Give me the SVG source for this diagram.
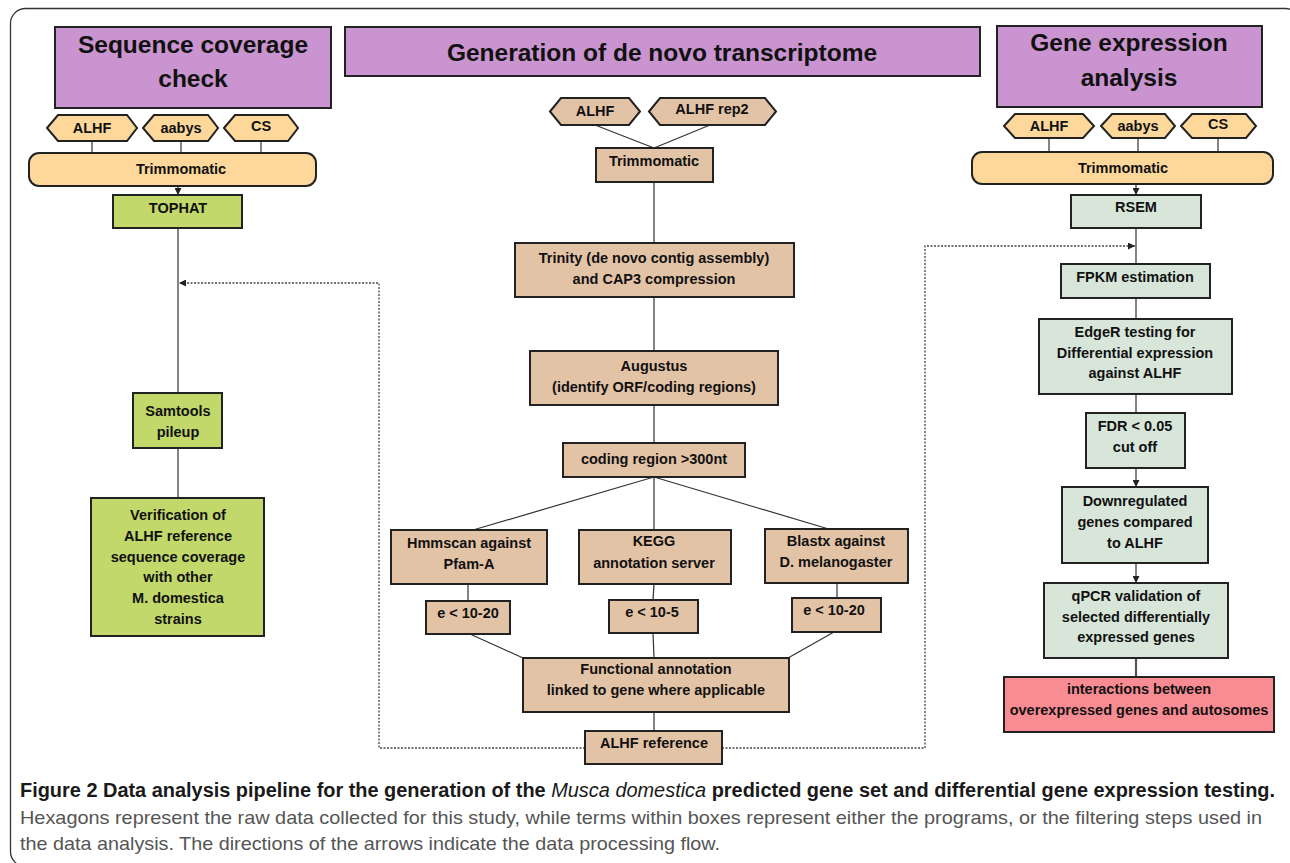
<svg xmlns="http://www.w3.org/2000/svg" width="1290" height="863" viewBox="0 0 1290 863">
<defs>
<style>
.hdr{fill:#c994cf;stroke:#222;stroke-width:2}
.hex{fill:#fdd89a;stroke:#222;stroke-width:2}
.hexc{fill:#e3c3a6;stroke:#222;stroke-width:2}
.trim{fill:#fdd89a;stroke:#222;stroke-width:2}
.grn{fill:#c2d86a;stroke:#222;stroke-width:2}
.tan{fill:#e3c3a6;stroke:#222;stroke-width:2}
.gry{fill:#d8e6da;stroke:#222;stroke-width:2}
.pnk{fill:#f98b93;stroke:#222;stroke-width:2}
text{font-family:"Liberation Sans",Arial,sans-serif;font-weight:bold;fill:#111;text-anchor:middle}
.ht{font-size:24.5px}
.nt{font-size:14.5px}
.ln{stroke:#333;stroke-width:1.2;fill:none}
.dot{stroke:#444;stroke-width:1.3;fill:none;stroke-dasharray:2,1.5}
.cap{font-family:"Liberation Sans Narrow","Liberation Sans",Arial,sans-serif;text-anchor:start;font-size:20px}
</style>
<marker id="ah" viewBox="0 0 10 10" refX="10" refY="5" markerWidth="7" markerHeight="7" orient="auto" markerUnits="userSpaceOnUse">
<path d="M0,0 L10,5 L0,10 z" fill="#222"/>
</marker>
</defs>
<rect width="1290" height="863" fill="#fff"/>
<rect x="10.5" y="8.5" width="1290" height="858" rx="15" fill="none" stroke="#333" stroke-width="1.3"/>

<g id="connectors">
<line class="ln" x1="92" y1="141" x2="92" y2="153"/>
<line class="ln" x1="181" y1="141" x2="181" y2="153"/>
<line class="ln" x1="261" y1="141" x2="261" y2="153"/>
<line class="ln" x1="178" y1="186" x2="178" y2="195" marker-end="url(#ah)"/>
<line class="ln" x1="178" y1="228" x2="178" y2="393"/>
<line class="ln" x1="178" y1="448" x2="178" y2="498"/>
<line class="ln" x1="595" y1="125" x2="654" y2="148"/>
<line class="ln" x1="710" y1="125" x2="654" y2="148"/>
<line class="ln" x1="654" y1="182" x2="654" y2="243"/>
<line class="ln" x1="654" y1="297" x2="654" y2="351"/>
<line class="ln" x1="654" y1="405" x2="654" y2="443"/>
<line class="ln" x1="654" y1="477" x2="473" y2="530"/>
<line class="ln" x1="654" y1="477" x2="654" y2="530"/>
<line class="ln" x1="654" y1="477" x2="832" y2="530"/>
<line class="ln" x1="468" y1="584" x2="468" y2="601"/>
<line class="ln" x1="654" y1="584" x2="653" y2="600"/>
<line class="ln" x1="837" y1="583" x2="837" y2="598"/>
<line class="ln" x1="470" y1="634" x2="523" y2="658"/>
<line class="ln" x1="653" y1="633" x2="654" y2="658"/>
<line class="ln" x1="834" y1="632" x2="788" y2="658"/>
<line class="ln" x1="654" y1="712" x2="654" y2="731"/>
<line class="ln" x1="1049" y1="138" x2="1049" y2="152"/>
<line class="ln" x1="1138" y1="138" x2="1138" y2="152"/>
<line class="ln" x1="1218" y1="138" x2="1218" y2="152"/>
<line class="ln" x1="1136" y1="184" x2="1136" y2="195" marker-end="url(#ah)"/>
<line class="ln" x1="1136" y1="228" x2="1136" y2="264"/>
<line class="ln" x1="1136" y1="298" x2="1136" y2="319"/>
<line class="ln" x1="1136" y1="394" x2="1136" y2="413"/>
<line class="ln" x1="1136" y1="468" x2="1136" y2="487" marker-end="url(#ah)"/>
<line class="ln" x1="1136" y1="563" x2="1136" y2="583" marker-end="url(#ah)"/>
<line x1="1136" y1="658" x2="1136" y2="677" stroke="#555" stroke-width="2.2"/>
<polyline class="dot" points="585,748 379,748 379,283 179,283" marker-end="url(#ah)"/>
<polyline class="dot" points="722,748 925,748 925,246 1135,246" marker-end="url(#ah)"/>
</g>

<g id="hdr-left"><rect class="hdr" x="55" y="27" width="276" height="81"/>
<text class="ht" x="193" y="53">Sequence coverage</text><text class="ht" x="193" y="87">check</text></g>
<g id="hdr-center"><rect class="hdr" x="345" y="27" width="635" height="49"/>
<text class="ht" x="662" y="61">Generation of de novo transcriptome</text></g>
<g id="hdr-right"><rect class="hdr" x="997" y="26" width="265" height="81"/>
<text class="ht" x="1129" y="51">Gene expression</text><text class="ht" x="1129" y="86">analysis</text></g>

<g id="hex-l-alhf"><polygon class="hex" points="47,128 58,115 127,115 137,128 127,141 58,141"/><text class="nt" x="92" y="133">ALHF</text></g>
<g id="hex-l-aabys"><polygon class="hex" points="143,128 154,115 208,115 218,128 208,141 154,141"/><text class="nt" x="181" y="133">aabys</text></g>
<g id="hex-l-cs"><polygon class="hex" points="224,128 235,115 288,115 298,128 288,141 235,141"/><text class="nt" x="261" y="131">CS</text></g>
<g id="trim-l"><rect class="trim" x="29" y="153" width="287" height="33" rx="10"/><text class="nt" x="181" y="174">Trimmomatic</text></g>
<g id="tophat"><rect class="grn" x="113" y="195" width="129" height="33"/><text class="nt" x="178" y="213">TOPHAT</text></g>
<g id="samtools"><rect class="grn" x="133" y="393" width="89" height="55"/><text class="nt" x="178" y="416">Samtools</text><text class="nt" x="178" y="437">pileup</text></g>
<g id="verification"><rect class="grn" x="91" y="498" width="173" height="138"/>
<text class="nt" x="178" y="520">Verification of</text>
<text class="nt" x="178" y="541">ALHF reference</text>
<text class="nt" x="178" y="562">sequence coverage</text>
<text class="nt" x="178" y="582">with other</text>
<text class="nt" x="178" y="603">M. domestica</text>
<text class="nt" x="178" y="624">strains</text></g>

<g id="hex-c-alhf"><polygon class="hexc" points="550,111.5 561,98 629,98 640,111.5 629,125 561,125"/><text class="nt" x="595" y="116">ALHF</text></g>
<g id="hex-c-rep2"><polygon class="hexc" points="649,111.5 660,98 765,98 776,111.5 765,125 660,125"/><text class="nt" x="712" y="114">ALHF rep2</text></g>
<g id="trim-c"><rect class="tan" x="596" y="148" width="117" height="34"/><text class="nt" x="654" y="166">Trimmomatic</text></g>
<g id="trinity"><rect class="tan" x="515" y="243" width="279" height="54"/><text class="nt" x="654" y="263">Trinity (de novo contig assembly)</text><text class="nt" x="654" y="284">and CAP3 compression</text></g>
<g id="augustus"><rect class="tan" x="530" y="351" width="248" height="54"/><text class="nt" x="654" y="371">Augustus</text><text class="nt" x="654" y="392">(identify ORF/coding regions)</text></g>
<g id="coding"><rect class="tan" x="563" y="443" width="182" height="34"/><text class="nt" x="654" y="464">coding region &gt;300nt</text></g>
<g id="hmmscan"><rect class="tan" x="391" y="530" width="156" height="54"/><text class="nt" x="469" y="548">Hmmscan against</text><text class="nt" x="469" y="569">Pfam-A</text></g>
<g id="kegg"><rect class="tan" x="579" y="530" width="152" height="54"/><text class="nt" x="654" y="546">KEGG</text><text class="nt" x="654" y="568">annotation server</text></g>
<g id="blastx"><rect class="tan" x="765" y="529" width="143" height="54"/><text class="nt" x="836" y="546">Blastx against</text><text class="nt" x="836" y="567">D. melanogaster</text></g>
<g id="e-left"><rect class="tan" x="426" y="601" width="84" height="33"/><text class="nt" x="468" y="618">e &lt; 10-20</text></g>
<g id="e-mid"><rect class="tan" x="609" y="600" width="89" height="33"/><text class="nt" x="652" y="617">e &lt; 10-5</text></g>
<g id="e-right"><rect class="tan" x="792" y="598" width="89" height="34"/><text class="nt" x="834" y="615">e &lt; 10-20</text></g>
<g id="functional"><rect class="tan" x="523" y="658" width="266" height="54"/><text class="nt" x="656" y="674">Functional annotation</text><text class="nt" x="656" y="695">linked to gene where applicable</text></g>
<g id="alhf-ref"><rect class="tan" x="585" y="731" width="137" height="33"/><text class="nt" x="654" y="748">ALHF reference</text></g>

<g id="hex-r-alhf"><polygon class="hex" points="1004,126 1015,114 1083,114 1094,126 1083,138 1015,138"/><text class="nt" x="1049" y="131">ALHF</text></g>
<g id="hex-r-aabys"><polygon class="hex" points="1101,126 1112,114 1165,114 1175,126 1165,138 1112,138"/><text class="nt" x="1138" y="131">aabys</text></g>
<g id="hex-r-cs"><polygon class="hex" points="1181,126 1192,114 1246,114 1256,126 1246,138 1192,138"/><text class="nt" x="1218" y="129">CS</text></g>
<g id="trim-r"><rect class="trim" x="972" y="152" width="301" height="32" rx="10"/><text class="nt" x="1123" y="173">Trimmomatic</text></g>
<g id="rsem"><rect class="gry" x="1071" y="195" width="130" height="33"/><text class="nt" x="1136" y="212">RSEM</text></g>
<g id="fpkm"><rect class="gry" x="1061" y="264" width="149" height="34"/><text class="nt" x="1135" y="282">FPKM estimation</text></g>
<g id="edger"><rect class="gry" x="1039" y="319" width="193" height="75"/><text class="nt" x="1135" y="337">EdgeR testing for</text><text class="nt" x="1135" y="358">Differential expression</text><text class="nt" x="1135" y="378">against ALHF</text></g>
<g id="fdr"><rect class="gry" x="1086" y="413" width="99" height="55"/><text class="nt" x="1135" y="431">FDR &lt; 0.05</text><text class="nt" x="1135" y="452">cut off</text></g>
<g id="downreg"><rect class="gry" x="1062" y="487" width="146" height="76"/><text class="nt" x="1135" y="506">Downregulated</text><text class="nt" x="1135" y="527">genes compared</text><text class="nt" x="1135" y="548">to ALHF</text></g>
<g id="qpcr"><rect class="gry" x="1044" y="583" width="184" height="75"/><text class="nt" x="1136" y="601">qPCR validation of</text><text class="nt" x="1136" y="622">selected differentially</text><text class="nt" x="1136" y="642">expressed genes</text></g>
<g id="interactions"><rect class="pnk" x="1004" y="677" width="270" height="55"/><text class="nt" x="1139" y="694">interactions between</text><text class="nt" x="1139" y="715">overexpressed genes and autosomes</text></g>

<g id="caption">
<text class="cap" x="20" y="797" textLength="1255" lengthAdjust="spacingAndGlyphs" style="fill:#1a1a1a">Figure 2 Data analysis pipeline for the generation of the <tspan font-style="italic" font-weight="normal">Musca domestica</tspan> predicted gene set and differential gene expression testing.</text>
<text class="cap" x="20" y="824" textLength="1242" lengthAdjust="spacingAndGlyphs" style="font-weight:normal;fill:#555;font-size:19px">Hexagons represent the raw data collected for this study, while terms within boxes represent either the programs, or the filtering steps used in</text>
<text class="cap" x="20" y="850" textLength="700" lengthAdjust="spacingAndGlyphs" style="font-weight:normal;fill:#555;font-size:19px">the data analysis. The directions of the arrows indicate the data processing flow.</text>
</g>
</svg>
